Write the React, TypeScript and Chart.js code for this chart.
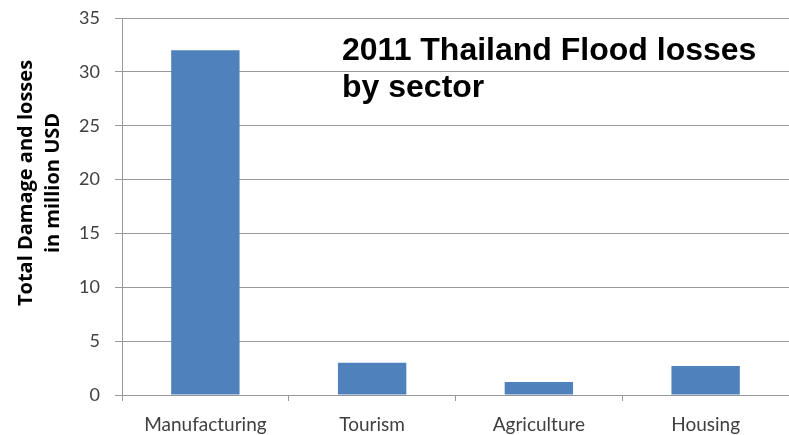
import React, { useEffect, useRef } from "react";
import { Chart, registerables } from "chart.js";

Chart.register(...registerables);

const categories = ["Manufacturing", "Tourism", "Agriculture", "Housing"];
const losses = [32, 3.0, 1.2, 2.7];
const yTitle = ["Total Damage and losses", "in million USD"];
const chartTitle = ["2011 Thailand Flood losses", "by sector"];

const textPlugin = {
  id: "overlayText",
  afterDraw(chart: any) {
    const ctx = chart.ctx;
    ctx.save();
    ctx.fillStyle = "#000";
    ctx.font = "bold 32px 'Liberation Sans', Arial, sans-serif";
    ctx.textAlign = "left";
    ctx.textBaseline = "middle";
    ctx.fillText(chartTitle[0], 342, 51);
    ctx.fillText(chartTitle[1], 342, 88);
    ctx.restore();

    ctx.save();
    ctx.fillStyle = "#000";
    ctx.font = "bold 20px 'Open Sans', sans-serif";
    ctx.textAlign = "center";
    ctx.textBaseline = "middle";
    ctx.translate(26, 183);
    ctx.rotate(-Math.PI / 2);
    ctx.fillText(yTitle[0], 0, 0);
    ctx.fillText(yTitle[1], 0, 27);
    ctx.restore();
  },
};

export default function App() {
  const ref = useRef<HTMLCanvasElement>(null);
  useEffect(() => {
    if (!ref.current) return;
    const chart = new Chart(ref.current, {
      type: "bar",
      data: {
        labels: categories,
        datasets: [
          {
            data: losses,
            backgroundColor: "#4f81bd",
            categoryPercentage: 1,
            barPercentage: 0.41,
          },
        ],
      },
      options: {
        animation: false,
        responsive: false,
        maintainAspectRatio: false,
        layout: { padding: { top: 18, right: 0, left: 0, bottom: 0 } },
        plugins: { legend: { display: false }, tooltip: { enabled: false } },
        scales: {
          x: {
            afterFit: (s: any) => {
              s.height = 40;
              s.paddingLeft = 0;
              s.paddingRight = 0;
            },
            grid: {
              display: true,
              drawOnChartArea: false,
              tickLength: 6,
              color: "#999",
            },
            border: { color: "#999" },
            ticks: {
              color: "#404040",
              font: { family: "Lato, 'Open Sans', sans-serif", size: 19 },
              padding: 12,
            },
          },
          y: {
            min: 0,
            max: 35,
            afterFit: (s: any) => {
              s.width = 122;
              s.paddingTop = 0;
              s.paddingBottom = 0;
            },
            ticks: {
              stepSize: 5,
              color: "#404040",
              font: { family: "Lato, 'Open Sans', sans-serif", size: 18 },
              padding: 15,
            },
            grid: { color: "#999", tickLength: 7 },
            border: { color: "#999" },
            title: { display: false },
          },
        },
      },
      plugins: [textPlugin],
    });
    return () => chart.destroy();
  }, []);
  return (
    <div style={{ position: "absolute", left: 0, top: 0, width: 789, height: 435, background: "#fff" }}>
      <canvas ref={ref} width={789} height={435} />
    </div>
  );
}
